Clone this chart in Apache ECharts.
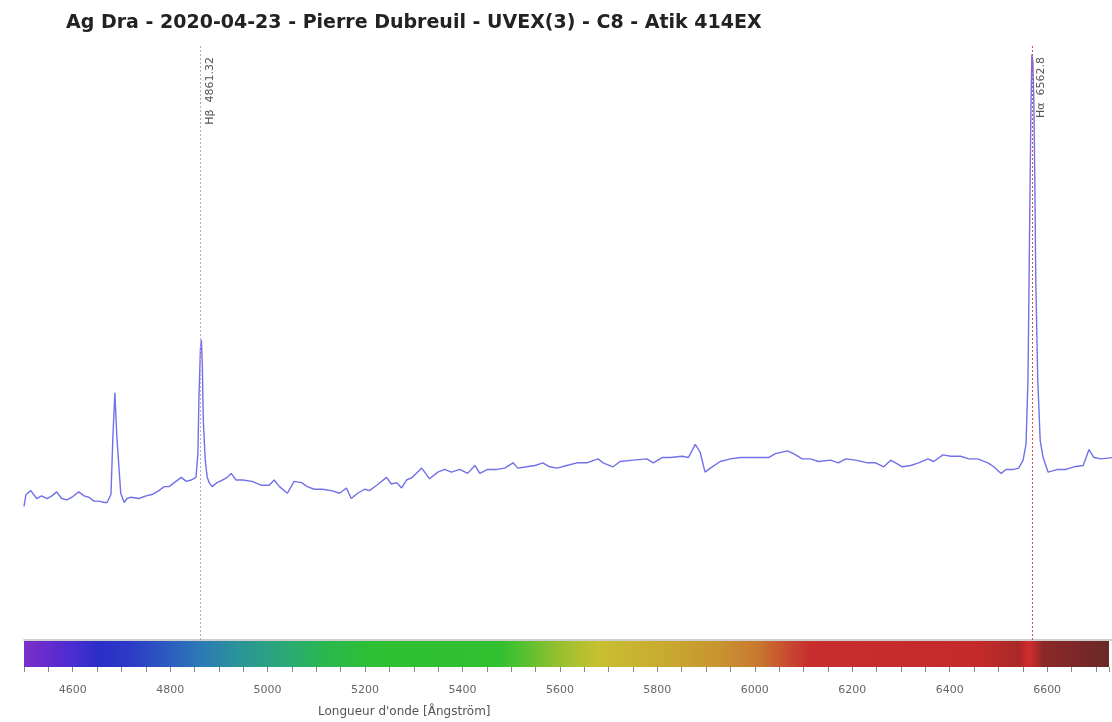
<!DOCTYPE html>
<html>
<head>
<meta charset="utf-8">
<script src="https://cdn.jsdelivr.net/npm/echarts@6/dist/echarts.min.js"></script>
<style>
  html, body { margin: 0; padding: 0; background: #fff; }
  #chart { width: 1112px; height: 722px; }
</style>
</head>
<body>
<div id="chart"></div>
<script>
// spectre : longueur d'onde (Å) / intensité relative
const wavelengths = [
  4500, 4504, 4514, 4520, 4526, 4536, 4547, 4557, 4567, 4577, 4588, 4598, 4612, 4623, 4633, 4643,
  4653, 4664, 4670, 4678, 4682, 4686, 4690, 4698, 4705, 4711, 4719, 4735, 4750, 4762, 4776, 4787,
  4797, 4811, 4822, 4832, 4842, 4852, 4856, 4858, 4861, 4863, 4865, 4867, 4871, 4875, 4879, 4885,
  4895, 4906, 4916, 4924, 4934, 4947, 4967, 4986, 5002, 5012, 5023, 5039, 5053, 5068, 5080, 5094,
  5111, 5129, 5146, 5160, 5170, 5183, 5197, 5207, 5222, 5242, 5252, 5263, 5273, 5283, 5295, 5314,
  5330, 5347, 5361, 5375, 5392, 5408, 5423, 5433, 5449, 5468, 5484, 5501, 5511, 5529, 5546, 5562,
  5576, 5591, 5611, 5632, 5652, 5675, 5685, 5706, 5720, 5747, 5775, 5788, 5806, 5823, 5847, 5860,
  5874, 5884, 5894, 5905, 5925, 5946, 5966, 5987, 6007, 6024, 6038, 6063, 6075, 6093, 6110, 6126,
  6151, 6167, 6182, 6202, 6227, 6243, 6260, 6274, 6284, 6298, 6315, 6331, 6350, 6362, 6381, 6397,
  6417, 6434, 6452, 6473, 6485, 6500, 6510, 6526, 6536, 6545, 6551, 6555, 6559, 6561, 6563, 6565,
  6567, 6569, 6571, 6575, 6580, 6586, 6596, 6616, 6633, 6649, 6668, 6680, 6690, 6705, 6729
]
const flux = [
  1.01, 1.10, 1.13, 1.10, 1.07, 1.09, 1.07, 1.09, 1.12, 1.07, 1.06, 1.08, 1.12, 1.09, 1.08, 1.05,
  1.05, 1.04, 1.04, 1.10, 1.54, 1.87, 1.54, 1.11, 1.04, 1.07, 1.08, 1.07, 1.09, 1.10, 1.13, 1.16,
  1.16, 1.20, 1.23, 1.20, 1.21, 1.23, 1.41, 1.82, 2.19, 2.27, 2.08, 1.66, 1.36, 1.23, 1.19, 1.16,
  1.19, 1.21, 1.23, 1.26, 1.21, 1.21, 1.20, 1.17, 1.17, 1.21, 1.16, 1.11, 1.20, 1.19, 1.16, 1.14,
  1.14, 1.13, 1.11, 1.15, 1.07, 1.11, 1.14, 1.13, 1.17, 1.23, 1.18, 1.19, 1.15, 1.21, 1.23, 1.30,
  1.22, 1.27, 1.29, 1.27, 1.29, 1.26, 1.32, 1.26, 1.29, 1.29, 1.30, 1.34, 1.30, 1.31, 1.32, 1.34,
  1.31, 1.30, 1.32, 1.34, 1.34, 1.37, 1.34, 1.31, 1.35, 1.36, 1.37, 1.34, 1.38, 1.38, 1.39, 1.38,
  1.48, 1.42, 1.27, 1.30, 1.35, 1.37, 1.38, 1.38, 1.38, 1.38, 1.41, 1.43, 1.41, 1.37, 1.37, 1.35,
  1.36, 1.34, 1.37, 1.36, 1.34, 1.34, 1.31, 1.36, 1.34, 1.31, 1.32, 1.34, 1.37, 1.35, 1.40, 1.39,
  1.39, 1.37, 1.37, 1.34, 1.31, 1.26, 1.29, 1.29, 1.30, 1.36, 1.48, 1.97, 3.33, 4.01, 4.43, 4.37,
  4.08, 3.48, 2.72, 1.97, 1.51, 1.38, 1.27, 1.29, 1.29, 1.31, 1.32, 1.44, 1.38, 1.37, 1.38
]

// raies identifiées
const lineNames = ['Hβ', 'Hα']
const lineWavelengths = [4861.32, 6562.8]
const lineColors = ['#c99ae0', '#e84848']

// bandeau de couleurs du spectre (longueur d'onde -> couleur)
const bandWavelengths = [4500, 4570, 4600, 4653, 4715, 4797, 4858, 4940, 5043, 5125, 5228, 5474, 5535, 5597, 5679, 5802, 5925, 6007, 6069, 6110, 6459, 6541, 6563, 6592, 6727]
const bandColors = ['#7b2fc9', '#5a2bd0', '#4a2ed0', '#2c2ec8', '#2c3ac6', '#2c5cc0', '#2b78b6', '#2a9498', '#2aaa74', '#2ab84c', '#2ec032', '#30c030', '#5cc030', '#96c030', '#c8c030', '#c8ac30', '#c89430', '#c87830', '#c84a30', '#c82e2e', '#c42a2a', '#aa2828', '#d22c2c', '#8c2828', '#6a2828']

const xMin = 4500
const xMax = 6727

const chart = echarts.init(document.getElementById('chart'))

const spectrum = wavelengths.map((w, i) => [w, flux[i]])
const bandStops = bandWavelengths.map((w, i) => ({
  offset: (w - xMin) / (xMax - xMin),
  color: bandColors[i]
}))

const option = {
  animation: false,
  textStyle: { fontFamily: 'DejaVu Sans' },
  title: {
    text: 'Ag Dra - 2020-04-23 - Pierre Dubreuil - UVEX(3) - C8 - Atik 414EX',
    left: 61,
    top: 9,
    textStyle: { fontSize: 19, fontWeight: 'bold', color: '#222', fontFamily: 'DejaVu Sans' }
  },
  grid: [
    { left: 24, right: 0, top: 45, bottom: 82 },
    {
      left: 24, right: 0, top: 641, height: 26,
      show: true,
      borderWidth: 0,
      backgroundColor: new echarts.graphic.LinearGradient(0, 0, 1, 0, bandStops)
    }
  ],
  xAxis: [
    {
      type: 'value', gridIndex: 0, min: xMin, max: xMax, position: 'top',
      axisLine: { show: true, lineStyle: { color: '#cfcfcf', width: 2 } },
      axisTick: { show: false }, axisLabel: { show: false }, splitLine: { show: false }
    },
    {
      type: 'value', gridIndex: 1, min: xMin, max: xMax, interval: 50,
      axisLine: { show: false },
      axisTick: { show: true, length: 5, lineStyle: { color: '#888' } },
      axisLabel: {
        color: '#666', fontSize: 11, margin: 18, fontFamily: 'DejaVu Sans',
        formatter: v => (v % 200 === 0 ? String(v) : '')
      },
      splitLine: { show: false }
    }
  ],
  yAxis: [
    { type: 'value', gridIndex: 0, min: 0, max: 4.5, show: false },
    { type: 'value', gridIndex: 1, min: 0, max: 1, show: false }
  ],
  graphic: [
    {
      type: 'text', left: 318, top: 706,
      style: { text: "Longueur d'onde [Ångström]", fontSize: 12, fill: '#555', fontFamily: 'DejaVu Sans' }
    }
  ],
  series: [
    {
      type: 'line',
      xAxisIndex: 0, yAxisIndex: 0,
      data: spectrum,
      showSymbol: false,
      lineStyle: { color: '#7070e8', width: 1.4 },
      markLine: {
        silent: true,
        symbol: ['none', 'none'],
        data: lineWavelengths.map((w, i) => ({
          name: lineNames[i],
          xAxis: w,
          itemStyle: { color: lineColors[i] },
          lineStyle: { color: lineColors[i], type: [2, 2], width: 1, opacity: 1 }
        })),
        label: {
          position: 'insideEndBottom',
          distance: [12, 4],
          fontSize: 11,
          color: '#555',
          fontFamily: 'DejaVu Sans',
          formatter: p => p.name + '  ' + p.value
        }
      }
    },
    { type: 'line', xAxisIndex: 1, yAxisIndex: 1, data: [] }
  ]
}

chart.setOption(option)
</script>
</body>
</html>
